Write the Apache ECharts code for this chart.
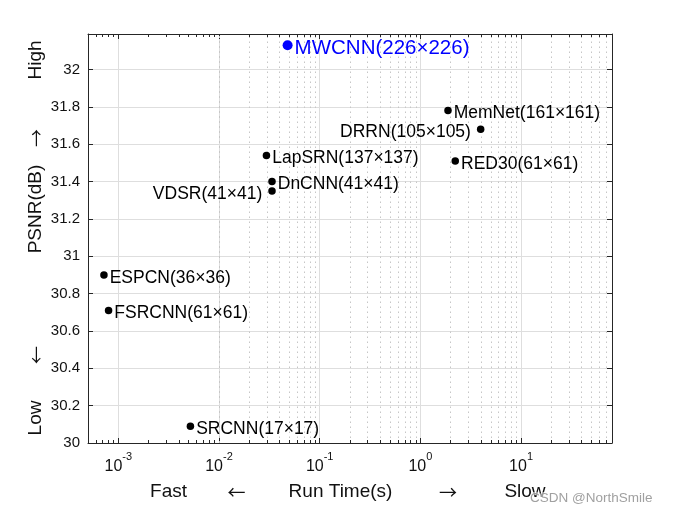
<!DOCTYPE html>
<html>
<head>
<meta charset="utf-8">
<script src="https://cdn.jsdelivr.net/npm/echarts@6/dist/echarts.min.js"></script>
<style>
html,body{margin:0;padding:0;background:#fff;}
#chart{width:682px;height:514px;}
</style>
</head>
<body>
<div id="chart"></div>
<script>
// ---- data ----
const methods = ['MWCNN(226×226)', 'MemNet(161×161)', 'DRRN(105×105)', 'LapSRN(137×137)', 'RED30(61×61)',
                 'DnCNN(41×41)', 'VDSR(41×41)', 'ESPCN(36×36)', 'FSRCNN(61×61)', 'SRCNN(17×17)'];
const runTimes = [0.048, 1.88, 3.97, 0.0296, 2.22, 0.0336, 0.0336, 0.00072, 0.0008, 0.0052];
const psnrValues = [32.13, 31.78, 31.68, 31.54, 31.51, 31.40, 31.35, 30.90, 30.71, 30.09];
const xTickExponents = [-3, -2, -1, 0, 1];
const yTickLabels = ['30', '30.2', '30.4', '30.6', '30.8', '31', '31.2', '31.4', '31.6', '31.8', '32'];
const minorMultipliers = [2, 3, 4, 5, 6, 7, 8, 9];
const xMin = 5e-4, xMax = 80, yMin = 30, yMax = 32.19;

// ---- build ----
const FONT = 'Liberation Sans, Arial, Helvetica, sans-serif';
const ARROWFONT = 'Noto Sans CJK SC, DejaVu Sans, sans-serif';
const AXIS = '#262626';
const TXT = '#111';
const highlighted = 'MWCNN(226×226)';
const leftLabeled = ['DRRN(105×105)', 'VDSR(41×41)'];

const blackPts = [], bluePts = [];
methods.forEach((m, i) => {
  const left = leftLabeled.indexOf(m) >= 0;
  const item = {
    name: m, value: [runTimes[i], psnrValues[i]],
    label: { position: left ? 'left' : 'right', distance: left ? 6 : 2 }
  };
  if (m === highlighted) bluePts.push(item); else blackPts.push(item);
});

// minor positions on log axis
const minorVals = [];
for (let d = -4; d <= 1; d++) {
  minorMultipliers.forEach(k => {
    const v = k * Math.pow(10, d);
    if (v > xMin * 1.0001 && v < xMax * 0.9999) minorVals.push(v);
  });
}
const tickLen = 3 / 187;
const minorLines = [];
minorVals.forEach(v => {
  minorLines.push({ xAxis: v, lineStyle: { color: '#c6c6c6', width: 1, type: [1.5, 3.5] } });
  minorLines.push([{ coord: [v, yMin] }, { coord: [v, yMin + tickLen], lineStyle: { color: AXIS, width: 1, type: 'solid' } }]);
  minorLines.push([{ coord: [v, yMax] }, { coord: [v, yMax - tickLen], lineStyle: { color: AXIS, width: 1, type: 'solid' } }]);
});

function xLabel(v) {
  const e = Math.log10(v);
  const r = Math.round(e);
  if (Math.abs(e - r) > 1e-6 || xTickExponents.indexOf(r) < 0) return '';
  return '{b|10}{s|' + r + '}';
}

const chart = echarts.init(document.getElementById('chart'), null, { renderer: 'canvas' });
chart.setOption({
  animation: false,
  backgroundColor: '#fff',
  grid: { left: 88, right: 70, top: 34, bottom: 71, containLabel: false, outerBoundsMode: 'none' },
  xAxis: [{
    type: 'log', logBase: 10, min: xMin, max: xMax,
    axisLine: { show: true, lineStyle: { color: AXIS, width: 1 } },
    axisTick: { show: true, inside: true, length: 5, lineStyle: { color: AXIS } },
    splitLine: { show: true, lineStyle: { color: '#dedede', width: 1 } },
    minorTick: { show: false }, minorSplitLine: { show: false },
    axisLabel: {
      show: true, margin: 8, formatter: xLabel, showMinLabel: true, showMaxLabel: true,
      rich: {
        b: { fontFamily: FONT, fontSize: 16, color: TXT, lineHeight: 24, verticalAlign: 'bottom' },
        s: { fontFamily: FONT, fontSize: 11, color: TXT, lineHeight: 12, verticalAlign: 'top' }
      }
    }
  }, {
    type: 'log', logBase: 10, min: xMin, max: xMax, position: 'top',
    axisLine: { show: true, lineStyle: { color: AXIS, width: 1 } },
    axisTick: { show: true, inside: true, length: 5, lineStyle: { color: AXIS } },
    splitLine: { show: false }, axisLabel: { show: false }
  }],
  yAxis: [{
    type: 'value', min: yMin, max: yMax, interval: 0.2,
    axisLine: { show: true, lineStyle: { color: AXIS, width: 1 } },
    axisTick: { show: true, inside: true, length: 5, lineStyle: { color: AXIS } },
    splitLine: { show: true, lineStyle: { color: '#dedede', width: 1 } },
    axisLabel: {
      show: true, margin: 8, fontFamily: FONT, fontSize: 15, color: TXT, showMaxLabel: false,
      formatter: v => {
        const idx = Math.round((v - yMin) / 0.2);
        return (Math.abs(v - (yMin + idx * 0.2)) < 1e-6 && yTickLabels[idx] !== undefined) ? yTickLabels[idx] : '';
      }
    }
  }, {
    type: 'value', min: yMin, max: yMax, interval: 0.2, position: 'right',
    axisLine: { show: true, lineStyle: { color: AXIS, width: 1 } },
    axisTick: { show: true, inside: true, length: 5, lineStyle: { color: AXIS } },
    splitLine: { show: false }, axisLabel: { show: false }
  }],
  series: [{
    type: 'scatter', data: [], z: 1, silent: true,
    markLine: { silent: true, symbol: 'none', animation: false, label: { show: false }, emphasis: { disabled: true }, data: minorLines }
  }, {
    type: 'scatter', z: 5, symbol: 'circle', symbolSize: 7.5,
    itemStyle: { color: '#000', opacity: 1 },
    label: { show: true, formatter: p => p.name, fontFamily: FONT, fontSize: 17.5, color: '#000', offset: [0, 3] },
    data: blackPts
  }, {
    type: 'scatter', z: 5, symbol: 'circle', symbolSize: 10,
    itemStyle: { color: '#0000ff', opacity: 1 },
    label: { show: true, formatter: p => p.name, fontFamily: FONT, fontSize: 20.5, color: '#0000ff', offset: [0, 3] },
    data: bluePts
  }],
  graphic: [
    { type: 'text', x: 36, y: 60, rotation: Math.PI / 2, style: { text: 'High', fontFamily: FONT, fontSize: 19, fill: TXT, align: 'center', verticalAlign: 'middle' } },
    { type: 'text', x: 36, y: 138, rotation: Math.PI / 2, style: { text: '→', fontFamily: ARROWFONT, fontSize: 18, fill: TXT, align: 'center', verticalAlign: 'middle' } },
    { type: 'text', x: 36, y: 209, rotation: Math.PI / 2, style: { text: 'PSNR(dB)', fontFamily: FONT, fontSize: 19, fill: TXT, align: 'center', verticalAlign: 'middle' } },
    { type: 'text', x: 36, y: 355, rotation: Math.PI / 2, style: { text: '←', fontFamily: ARROWFONT, fontSize: 18, fill: TXT, align: 'center', verticalAlign: 'middle' } },
    { type: 'text', x: 36, y: 418, rotation: Math.PI / 2, style: { text: 'Low', fontFamily: FONT, fontSize: 19, fill: TXT, align: 'center', verticalAlign: 'middle' } },
    { type: 'text', x: 168.5, y: 492, style: { text: 'Fast', fontFamily: FONT, fontSize: 19, fill: TXT, align: 'center', verticalAlign: 'middle' } },
    { type: 'text', x: 236.5, y: 492, style: { text: '←', fontFamily: ARROWFONT, fontSize: 18, fill: TXT, align: 'center', verticalAlign: 'middle' } },
    { type: 'text', x: 340.5, y: 492, style: { text: 'Run Time(s)', fontFamily: FONT, fontSize: 19, fill: TXT, align: 'center', verticalAlign: 'middle' } },
    { type: 'text', x: 448, y: 492, style: { text: '→', fontFamily: ARROWFONT, fontSize: 18, fill: TXT, align: 'center', verticalAlign: 'middle' } },
    { type: 'text', x: 525, y: 492, style: { text: 'Slow', fontFamily: FONT, fontSize: 19, fill: TXT, align: 'center', verticalAlign: 'middle' } },
    { type: 'text', x: 530, y: 498, z: 100, style: { text: 'CSDN @NorthSmile', fontFamily: FONT, fontSize: 13.5, fill: 'rgba(150,150,150,0.9)', stroke: 'rgba(255,255,255,0.6)', lineWidth: 2, align: 'left', verticalAlign: 'middle' } }
  ]
});
</script>
</body>
</html>
